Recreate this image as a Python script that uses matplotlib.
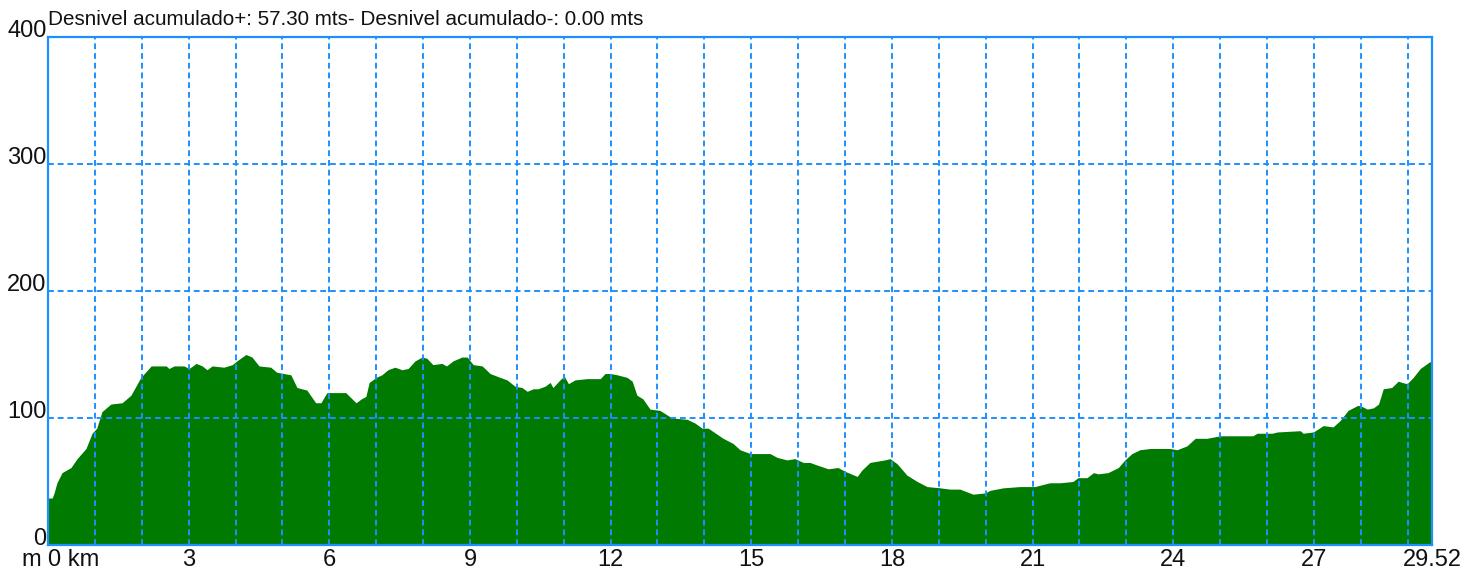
import matplotlib
matplotlib.use("Agg")
from matplotlib import pyplot as plt

plt.rcParams["font.family"] = ["Liberation Sans", "DejaVu Sans"]

# Elevation profile (distance in km, elevation in m)
dist_km = [
    0.0, 0.09, 0.13, 0.19, 0.30, 0.49, 0.62, 0.81, 0.94, 1.04,
    1.15, 1.34, 1.58, 1.77, 1.98, 2.20, 2.52, 2.58, 2.69, 2.90,
    3.01, 3.16, 3.29, 3.39, 3.50, 3.75, 3.93, 4.03, 4.22, 4.35,
    4.50, 4.75, 4.88, 5.18, 5.31, 5.52, 5.71, 5.82, 5.95, 6.16,
    6.35, 6.57, 6.68, 6.78, 6.85, 7.00, 7.12, 7.25, 7.40, 7.55,
    7.68, 7.83, 7.98, 8.08, 8.21, 8.40, 8.50, 8.64, 8.83, 8.94,
    9.07, 9.26, 9.43, 9.64, 9.79, 9.96, 10.11, 10.22, 10.35, 10.45,
    10.60, 10.71, 10.77, 10.92, 11.01, 11.10, 11.24, 11.50, 11.67, 11.78,
    11.88, 11.99, 12.14, 12.35, 12.46, 12.56, 12.69, 12.84, 13.05, 13.31,
    13.63, 13.80, 13.95, 14.08, 14.20, 14.40, 14.61, 14.76, 14.98, 15.33,
    15.40, 15.55, 15.76, 15.93, 16.11, 16.25, 16.40, 16.64, 16.85, 17.00,
    17.26, 17.36, 17.53, 17.85, 17.96, 18.11, 18.32, 18.54, 18.75, 19.03,
    19.24, 19.45, 19.73, 19.99, 20.09, 20.37, 20.73, 21.05, 21.37, 21.59,
    21.86, 21.97, 22.16, 22.30, 22.40, 22.61, 22.83, 22.97, 23.12, 23.29,
    23.51, 23.72, 23.93, 24.08, 24.29, 24.47, 24.72, 25.00, 25.43, 25.70,
    25.79, 26.11, 26.22, 26.71, 26.77, 26.99, 27.20, 27.41, 27.56, 27.73,
    27.94, 28.03, 28.14, 28.27, 28.38, 28.48, 28.66, 28.80, 28.88, 28.99,
    29.12, 29.27, 29.46, 29.52,
]
elev_m = [
    37, 37, 41, 49, 57, 61, 68, 76, 88, 92,
    105, 111, 112, 118, 132, 141, 141, 139, 141, 141,
    139, 143, 141, 138, 141, 140, 142, 145, 150, 148,
    141, 140, 136, 134, 124, 122, 112, 112, 120, 120,
    120, 112, 115, 117, 128, 132, 134, 138, 140, 138,
    139, 145, 148, 147, 142, 143, 141, 145, 148, 148,
    142, 141, 135, 132, 130, 125, 124, 121, 123, 123,
    125, 128, 124, 130, 133, 127, 130, 131, 131, 131,
    135, 135, 134, 132, 129, 118, 115, 107, 106, 100,
    99, 96, 92, 92, 89, 84, 80, 75, 72, 72,
    72, 69, 67, 68, 65, 65, 63, 60, 61, 58,
    54, 59, 65, 67, 68, 64, 55, 50, 46, 45,
    44, 44, 40, 41, 43, 45, 46, 46, 49, 49,
    50, 53, 53, 57, 56, 57, 61, 67, 72, 75,
    76, 76, 76, 75, 78, 84, 84, 86, 86, 86,
    88, 88, 89, 90, 88, 89, 94, 93, 98, 106,
    110, 109, 107, 108, 111, 123, 124, 129, 128, 127,
    132, 139, 144, 145,
]

x_ticks = [0, 3, 6, 9, 12, 15, 18, 21, 24, 27, 29.52]
x_labels = ["0 km", "3", "6", "9", "12", "15", "18", "21", "24", "27", "29.52"]
y_ticks = [0, 100, 200, 300, 400]
y_labels = ["0", "100", "200", "300", "400"]
title = "Desnivel acumulado+: 57.30 mts- Desnivel acumulado-: 0.00 mts"

blue = "#1e8fff"
ink = "#111111"
fig = plt.figure(figsize=(14.64, 5.69), dpi=100)
ax = fig.add_axes([48 / 1464, 24 / 569, 1384 / 1464, 508 / 569])

ax.fill_between(dist_km, elev_m, 0, color="#007a00", linewidth=0, zorder=1)

# dashed grid over the profile: every km and every 100 m
for k in range(1, 30):
    ax.axvline(k, color=blue, lw=1.4, ls=(0, (3, 2)), zorder=2)
for h in (100, 200, 300):
    ax.axhline(h, color=blue, lw=1.4, ls=(0, (3, 2)), zorder=2)

ax.set_xlim(0, 29.52)
ax.set_ylim(0, 400)
for s in ax.spines.values():
    s.set_color(blue)
    s.set_linewidth(1.6)
    s.set_zorder(3)

ax.set_xticks(x_ticks, x_labels, fontsize=17)
ax.set_yticks(y_ticks, y_labels, fontsize=17)
ax.tick_params(axis="x", length=0, pad=3, colors=ink)
ax.tick_params(axis="y", length=0, pad=1, colors=ink)
ax.get_xticklabels()[0].set_ha("left")
for lab in ax.get_yticklabels():
    lab.set_va("baseline")

# unit label on the same row as the distance labels
ax.annotate("m", xy=(0, 0), xycoords="axes fraction", xytext=(-7, -4),
            textcoords="offset pixels", ha="right", va="top",
            fontsize=17, color=ink)

ax.annotate(title, xy=(0, 1), xycoords="axes fraction", xytext=(0, 8),
            textcoords="offset pixels", ha="left", va="bottom",
            fontsize=14.85, color=ink)

fig.savefig("out.png", dpi=100)
